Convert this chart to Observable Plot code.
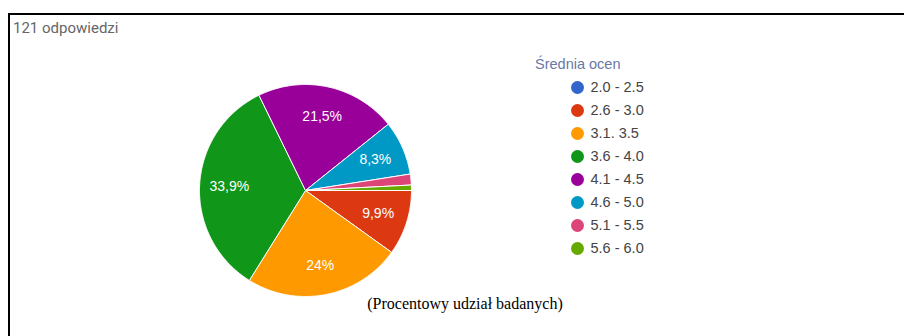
<!DOCTYPE html>
<html lang="pl">
<head>
<meta charset="utf-8">
<script src="https://cdn.jsdelivr.net/npm/d3@7"></script>
<script src="https://cdn.jsdelivr.net/npm/@observablehq/plot@0.6"></script>
<style>
  html, body { margin: 0; padding: 0; background: #fff; }
  #page { position: relative; width: 904px; height: 336px; overflow: hidden; font-family: "Liberation Sans", Arial, sans-serif; }
  #frame { position: absolute; left: 8px; top: 13px; right: 0; bottom: 0; border-top: 2px solid #000; border-left: 2px solid #000; }
  #count { position: absolute; left: 13px; top: 19px; font-size: 15px; color: #666; font-family: Roboto, "Liberation Sans", sans-serif; }
  #legend-title { position: absolute; left: 535px; top: 56px; font-size: 14.5px; color: #6a78a6; }
  #pie { position: absolute; left: 189px; top: 74px; }
  #legend { position: absolute; left: 570px; top: 75px; }
  #caption { position: absolute; left: 0; width: 930px; top: 295px; text-align: center; font-family: "Liberation Serif", "Times New Roman", serif; font-size: 16px; color: #000; }
</style>
</head>
<body>
<div id="page">
  <div id="frame"></div>
  <div id="count"></div>
  <div id="legend-title">Średnia ocen</div>
  <div id="pie"></div>
  <div id="legend"></div>
  <div id="caption">(Procentowy udział badanych)</div>
</div>
<script>
// Grade-average brackets and number of respondents in each
const categories = ["2.0 - 2.5", "2.6 - 3.0", "3.1. 3.5", "3.6 - 4.0", "4.1 - 4.5", "4.6 - 5.0", "5.1 - 5.5", "5.6 - 6.0"];
const counts = [0, 12, 29, 41, 26, 10, 2, 1];
const colors = ["#3366cc", "#dc3912", "#ff9900", "#109618", "#990099", "#0099c6", "#dd4477", "#66aa00"];

const total = d3.sum(counts);
document.getElementById("count").textContent = `${total} odpowiedzi`;

const rows = categories.map((name, i) => ({name, count: counts[i], share: counts[i] / total}));

// Slices run clockwise, starting from the 3 o'clock position
const startAngle = Math.PI / 2;
const arcs = d3.pie().sort(null).value(d => d.count)
  .startAngle(startAngle).endAngle(startAngle + 2 * Math.PI)(rows);

// Outline of each slice as a closed polygon in unit-circle coordinates
const outline = [];
for (const a of arcs) {
  if (a.data.count === 0) continue;
  const n = Math.max(2, Math.ceil((a.endAngle - a.startAngle) / (Math.PI / 360)));
  outline.push({name: a.data.name, x: 0, y: 0});
  for (let k = 0; k <= n; k++) {
    const t = a.startAngle + (a.endAngle - a.startAngle) * k / n;
    outline.push({name: a.data.name, x: Math.sin(t), y: Math.cos(t)});
  }
  outline.push({name: a.data.name, x: 0, y: 0});
}

// Percentage labels for the larger slices
const fmt = v => {
  const s = (Math.round(v * 1000) / 10).toFixed(1).replace(/\.0$/, "");
  return s.replace(".", ",") + "%";
};
const labels = arcs.filter(a => a.data.share >= 0.05).map(a => {
  const m = (a.startAngle + a.endAngle) / 2;
  return {x: 0.72 * Math.sin(m), y: 0.72 * Math.cos(m), text: fmt(a.data.share)};
});

const color = {domain: categories, range: colors};

const pie = Plot.plot({
  width: 232,
  height: 232,
  margin: 10,
  x: {domain: [-1, 1], axis: null},
  y: {domain: [-1, 1], axis: null},
  color,
  style: {fontFamily: "'Liberation Sans', Arial, sans-serif", background: "transparent", overflow: "visible"},
  marks: [
    Plot.line(outline, {x: "x", y: "y", z: "name", fill: "name", stroke: "#fff", strokeWidth: 1, curve: "linear"}),
    Plot.text(labels, {x: "x", y: "y", text: "text", fill: "#fff", fontSize: 14})
  ]
});
document.getElementById("pie").append(pie);

const legend = Plot.plot({
  width: 110,
  height: 190,
  marginLeft: 7,
  marginRight: 0,
  marginTop: 0,
  marginBottom: 0,
  y: {type: "point", domain: categories, range: [12, 173], padding: 0, axis: null},
  color,
  style: {fontFamily: "'Liberation Sans', Arial, sans-serif", background: "transparent", overflow: "visible"},
  marks: [
    Plot.dot(categories, {y: d => d, fill: d => d, r: 6.5, frameAnchor: "left"}),
    Plot.text(categories, {y: d => d, text: d => d, frameAnchor: "left", textAnchor: "start", dx: 13, fontSize: 14.5, fill: "#444"})
  ]
});
document.getElementById("legend").append(legend);
</script>
</body>
</html>
